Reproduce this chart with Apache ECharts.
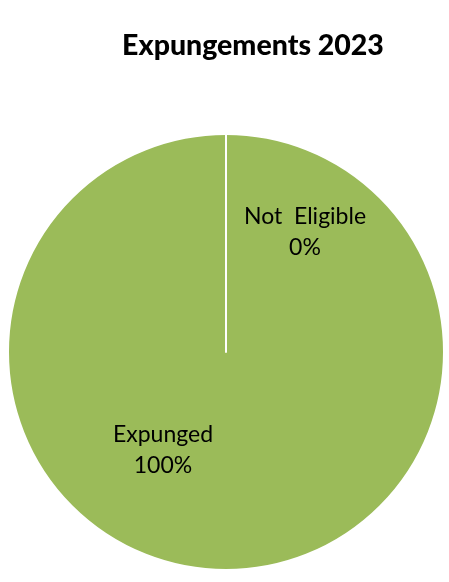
<!DOCTYPE html>
<html>
<head>
<meta charset="utf-8">
<script src="https://cdn.jsdelivr.net/npm/echarts@6/dist/echarts.min.js"></script>
<style>
html,body{margin:0;padding:0;background:#fff;}
#chart{width:449px;height:582px;}
</style>
</head>
<body>
<div id="chart"></div>
<script>
var categories = ['Expunged', 'Not Eligible'];
var values = [100, 0];
var percentLabels = ['100%', '0%'];
var labelShift = [[-63, -14], [79, -8]];

var chart = echarts.init(document.getElementById('chart'), null, {renderer: 'canvas'});
chart.setOption({
  animation: false,
  title: {
    text: 'Expungements 2023',
    left: 248, top: 26, textAlign: 'center',
    textStyle: {fontFamily: 'Lato', fontWeight: 900, fontSize: 28.5, color: '#000'}
  },
  series: [{
    type: 'pie',
    center: [226, 352],
    radius: [0, 218],
    startAngle: 90,
    clockwise: true,
    avoidLabelOverlap: false,
    stillShowZeroSum: true,
    data: categories.map(function (c, i) {
      return {name: c, value: values[i], itemStyle: {color: '#9BBB59'}};
    }),
    itemStyle: {borderColor: '#ffffff', borderWidth: 2},
    label: {
      show: true,
      position: 'inside',
      formatter: function (p) { return p.name.replace(' ', '  ') + '\n' + percentLabels[p.dataIndex]; },
      fontFamily: 'Lato', fontSize: 23, color: '#000', lineHeight: 31
    },
    labelLine: {show: false},
    labelLayout: function (p) {
      return {dx: labelShift[p.dataIndex][0], dy: labelShift[p.dataIndex][1]};
    },
    emphasis: {disabled: true}
  }]
});
</script>
</body>
</html>
